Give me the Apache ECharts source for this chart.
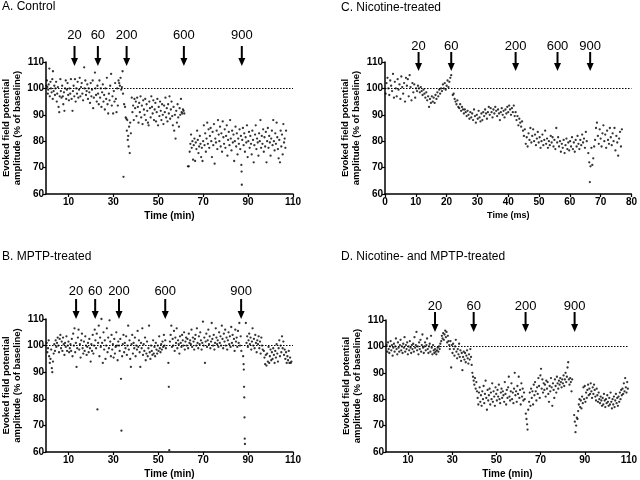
<!DOCTYPE html>
<html><head><meta charset="utf-8">
<script src="https://cdn.jsdelivr.net/npm/echarts@6/dist/echarts.min.js"></script>
<style>html,body{margin:0;padding:0;background:#fff}#c{width:640px;height:480px}</style>
</head><body><div id="c"></div>
<script>
// ---------- DATA ----------
const stimLabels = ['20','60','200','600','900'];
const stimLabelsD = ['20','60','200','900'];
const controlStimT = [12.7, 23.1, 35.9, 61.4, 87.2];
const nicotineStimT = [10.9, 21.5, 42.4, 56.0, 66.6];
const mptpStimT = [13.4, 21.9, 32.5, 53.1, 86.9];
const nicMptpStimT = [22.2, 39.7, 63.2, 85.4];
const xTicksMin = [10,30,50,70,90,110];
const xTicksC = [0,10,20,30,40,50,60,70,80];

const controlPts = [[0.2,101],[0.4,103],[0.6,100.5],[0.8,98],[1,99.5],[1.2,101.5],[1.5,107.5],[1.7,97],[2,102.5],[2.2,100],[2.5,98.5],[2.8,103.5],[3,96],[3.1,106.5],[3.4,99],[3.7,101],[4,97.5],[4.2,100],[4.5,102.5],[4.8,95],[5,98],[5.3,100.5],[5.6,93],[5.9,91],[6.1,97],[6.4,103.5],[6.6,99],[6.9,96.5],[7.2,101],[7.5,97],[7.7,94],[8,98.5],[8.2,91.5],[8.5,100],[8.8,103],[9,96],[9.3,99.5],[9.6,102],[9.9,97.5],[10.2,95.5],[10.5,100],[10.8,98],[11.1,103.5],[11.4,96],[11.8,91.5],[12,99],
[12.3,101],[12.6,97],[12.9,103.5],[13.2,95],[13.5,100],[13.8,98],[14.1,102.5],[14.4,96.5],[14.7,99.5],[15,104],[15.3,97],[15.6,100.5],[15.9,102],[16.2,98],[16.5,95.5],[17,108],[17.2,100],[17.5,103],[17.8,97.5],[18.1,99],[18.4,101.5],[18.7,96],[19,100],[19.3,98.5],[19.6,94.5],[19.9,102],[20.2,97],[20.5,99.5],[20.8,103],[21,92.5],[21.3,96.5],[21.8,106],[22,100],[22.3,97.5],[22.6,95],[22.9,101],
[23.2,98],[23.5,94],[23.8,103],[24.1,96.5],[24.4,100],[24.7,93],[25,98.5],[25.3,101.5],[25.6,95],[25.9,97.5],[26.2,92],[26.5,100],[26.8,96],[27.1,104],[27.4,94],[27.7,90.5],[28,98],[28.3,95.5],[28.6,101],[29,105.5],[29.3,93.5],[29.6,97],[29.9,90.5],[30.2,99],[30.5,95],[30.8,102],[31.1,96],[31.4,91],[31.7,100],[32,93.5],[32.3,103],[32.6,102],[32.9,101],[33.2,104],[33.5,99.5],[33.8,100.5],[34.1,106.5],[34.3,98],[34.5,66.5],[34.8,94],
[35.2,93],[35.5,89],[35.8,88.5],[36,84],[36.2,88],[36.4,80.5],[36.6,82],[36.8,78],[37,85.5],[37.3,75.5],[37.5,87],[37.8,83],
[38.2,96.5],[38.5,91],[38.8,93.5],[39.1,88],[39.4,96],[39.7,92.5],[40,95],[40.3,89.5],[40.6,96.5],[40.9,93],[41.2,87],[41.5,94.5],[41.8,91],[42.1,97],[42.4,89],[42.7,93.5],[43,86.5],[43.3,95.5],[43.6,92],[43.9,90],[44.2,96],[44.5,88],[44.8,94],[45.1,91.5],[45.4,87],[45.7,86],[46,95],[46.3,92.5],[46.6,89],[46.9,97],[47.2,93],[47.5,90.5],[47.8,95.5],[48.1,88],[48.4,92],[48.7,94.5],[49,87.5],[49.3,91],[49.6,96],[49.9,86],[50.2,93],[50.5,89.5],[50.8,95],[51.1,91.5],[51.4,88],[51.7,94],[52,90],[52.3,86.5],[52.6,93.5],[52.9,91],[53.2,96.5],[53.5,89],[53.8,92.5],[54.1,87.5],[54.4,94],[54.7,90.5],[55,97],[55.3,88.5],[55.6,92],[55.9,95],[56.2,89.5],[56.5,86],[56.8,93],[57.1,84],[57.4,90],[57.7,81],[58,91.5],[58.3,87],[58.6,94],[58.9,89],[59.2,85.5],[59.5,92.5],[59.8,90],[60.1,96],[60.4,91],[60.7,90.5],[61,92],[61.3,91.5],[61.6,90.5],
[63.2,70.5],[63.6,70.5],[64,76],[64.3,79],[64.6,82.5],[64.9,77.5],[65.2,80],[65.5,73],[65.8,78.5],[66.1,81],[66.4,72.5],[66.7,79.5],[67,77],[67.3,84],[67.6,80.5],[67.9,75.5],[68.2,78],[68.5,82],[68.8,79],[69.1,74],[69.4,77.5],[69.7,72.5],[70,80],[70.3,86],[70.6,78.5],[70.9,83],[71.2,76],[71.5,81],[71.8,87],[72.1,79],[72.4,84.5],[72.7,77.5],[73,82],[73.3,85],[73.6,80],[73.9,74],[74.2,83.5],[74.5,78.5],[74.8,86.5],[75.1,71.5],[75.4,81],[75.7,79.5],[76,84],[76.3,77],[76.6,88],[76.9,82.5],[77.2,80],[77.5,85.5],[77.8,78],[78.1,83],[78.4,76],[78.7,87.5],[79,81.5],[79.3,79],[79.6,84.5],[79.9,77.5],[80.2,82],[80.5,86],[80.8,74.5],[81.1,80.5],[81.4,83.5],[81.7,78.5],[82,88],[82.3,81],[82.6,76.5],[82.9,84],[83.2,79.5],[83.5,82.5],[83.8,72.5],[84.1,80],[84.4,85.5],[84.7,78],[85,83],[85.3,75],[85.6,81],[85.9,79],[86.2,84.5],[86.5,77],[86.8,82],[87,71],[87.1,68.5],[87.2,63.5],[87.4,80.5],[87.7,85],[88,78.5],[88.3,83],[88.6,76],[88.9,81.5],[89.2,79.5],[89.5,86],[89.8,74],[90.1,80],[90.4,83.5],[90.7,77.5],[91,82],[91.3,79],[91.6,75],[91.9,84],[92.2,80.5],[92.5,72],[92.8,78.5],[93.1,82.5],[93.4,86],[93.7,77],[94,81],[94.3,79.5],[94.6,74.5],[94.9,83],[95.2,80],[95.5,88],[95.8,77.5],[96.1,82],[96.4,79],[96.7,84.5],[97,76],[97.3,81.5],[97.6,78],[97.9,83.5],[98.2,72],[98.5,80],[98.8,85],[99.1,77.5],[99.4,82],[99.7,79.5],[100,74.5],[100.3,81],[100.6,84],[100.9,78.5],[101.2,88],[101.5,80],[101.8,76.5],[102.1,83],[102.4,79],[102.7,87],[103,81.5],[103.3,77],[103.6,73.5],[103.9,80.5],[104.2,72],[104.5,84],[104.8,78],[105.1,82.5],[105.4,75],[105.7,86.5],[106,79.5],[106.3,81],[106.6,77.5],[106.9,84]];

const nicotinePts = [[0.2,98],[0.5,102],[0.8,104],[1.1,100],[1.4,97.5],[1.7,103],[2,101],[2.3,99],[2.6,105.5],[2.9,96.5],[3.2,102.5],[3.5,100],[3.8,97],[4.1,103.5],[4.4,99.5],[4.7,101.5],[5,96],[5.3,104.5],[5.6,100.5],[5.9,98],[6.2,102],[6.5,95],[6.8,104],[7.1,101],[7.4,103.5],[7.7,97],[8,105],[8.3,100.5],[8.6,95.5],[8.9,102],[9.2,98.5],[9.5,101.5],[9.8,96.5],
[10.1,100],[10.4,99],[10.7,101],[11,100],[11.3,98.5],[11.6,100.5],[11.9,99],[12.2,97.5],[12.5,99.5],[12.8,98],[13.1,96.5],[13.4,98.5],[13.7,95.5],[14,97],[14.3,93],[14.6,96],[14.9,94.5],[15.2,97],
[15.5,95],[15.8,96.5],[16.1,94.5],[16.4,97.5],[16.7,96],[17,98.5],[17.3,97],[17.6,99.5],[17.9,98],[18.2,100],[18.5,99],[18.8,101.5],[19.1,100],[19.4,102],[19.7,99.5],[20,101],[20.3,103],[20.6,100.5],[20.9,102.5],[21.2,104],[21.5,105],
[22,97.5],[22.3,98],[22.6,96],[22.9,95],[23.2,94],[23.5,95.5],[23.8,93],[24.1,92.5],[24.4,94],[24.7,91.5],[25,93],[25.3,92],[25.6,90.5],[25.9,92],[26.2,91],[26.5,89.5],[26.8,91.5],[27.1,90],
[27.4,88.5],[27.7,91],[28,89],[28.3,90.5],[28.6,88],[28.9,92],[29.2,89.5],[29.5,87],[29.8,90],[30.1,88.5],[30.4,91.5],[30.7,89],[31,87.5],[31.3,90.5],[31.6,88],[31.9,91],
[32.2,89.5],[32.5,92],[32.8,90.5],[33.1,88.5],[33.4,91],[33.7,93],[34,90],[34.3,92.5],[34.6,91],[34.9,89],[35.2,92],[35.5,90.5],[35.8,93],[36.1,91.5],[36.4,89.5],[36.7,92],[37,90.5],[37.3,88],[37.6,91],[37.9,92.5],[38.2,90],[38.5,91.5],[38.8,89],[39.1,92],[39.4,90.5],[39.7,93],[40,91],[40.3,93.5],[40.6,92],[40.9,90],[41.2,92.5],[41.5,91],[41.8,93.5],
[42.1,89.5],[42.4,91],[42.7,88],[43,89.5],[43.3,86],[43.6,88.5],[43.9,87],[44.2,85.5],[44.5,87.5],[44.8,84],
[45.1,82],[45.4,84.5],[45.7,79],[46,81.5],[46.3,78],[46.6,83],[46.9,80.5],[47.2,85],[47.5,79.5],[47.8,82],[48.1,84.5],[48.4,80],[48.7,82.5],[49,78.5],[49.3,81],[49.6,83.5],[49.9,79.5],[50.2,81.5],[50.5,77.5],[50.8,80],[51.1,82.5],[51.4,78.5],[51.7,80.5],[52,84],[52.3,79],[52.6,81],[52.9,77.5],[53.2,80],[53.5,78.5],[53.8,82],[54.1,79.5],[54.4,81.5],[54.7,78],[55,80.5],
[55.3,77],[55.6,85],[55.9,79.5],[56.2,81.5],[56.5,78],[56.8,80],[57.1,76],[57.4,79],[57.7,77.5],[58,80.5],[58.3,75.5],[58.6,78.5],[58.9,81],[59.2,77],[59.5,79.5],[59.8,76.5],[60.1,80],[60.4,78],[60.7,81.5],[61,77],[61.3,79.5],[61.6,76],[61.9,80.5],[62.2,78],[62.5,82],[62.8,79],[63.1,77],[63.4,80.5],[63.7,78.5],[64,82.5],[64.3,79.5],[64.6,81],[64.9,77.5],[65.2,83.5],[65.5,80],
[66,75.5],[66.3,72],[66.5,64.5],[66.7,70.5],[67,77.5],[67.3,71],[67.6,73.5],[67.9,78],
[68.2,80.5],[68.5,85],[68.8,87],[69.1,82],[69.4,79],[69.7,84.5],[70,81],[70.3,78],[70.6,83],[70.9,86],[71.2,80],[71.5,82.5],[71.8,77.5],[72.1,84],[72.4,80.5],[72.7,79],[73,85],[73.3,81.5],[73.6,78.5],[73.9,83],[74.2,80],[74.5,85],[74.8,76.5],[75.1,82],[75.4,79.5],[75.7,74.5],[76,81],[76.3,83.5],[76.6,78],[76.9,84.5]];

const mptpPts = [[0.3,101],[0.6,97.5],[0.9,99],[1.2,102],[1.4,96],[1.7,93.5],[2,95],[2.3,98.5],[2.6,91.5],[2.8,90],[3.1,94],[3.4,97],[3.7,100.5],[4,98],[4.3,102],[4.6,99.5],[4.9,101],[5.2,103],[5.5,100],[5.8,97.5],[6.1,102.5],[6.4,104],[6.7,99],[7,101.5],[7.3,98],[7.6,103],[7.9,100.5],[8.2,96.5],[8.5,101],[8.8,99.5],[9.1,103.5],[9.4,98],[9.7,100],[10,101.5],[10.3,97.5],[10.6,99],[10.9,100.5],[11.2,98],[11.5,102.5],
[11.8,96],[12.1,104.5],[12.4,100],[12.7,106.5],[13,97.5],[13.3,101],[13.6,92],[13.9,99],[14.2,103],[14.5,106],[14.8,98.5],[15.1,100.5],[15.4,95.5],[15.7,102],[16,104.5],[16.3,99],[16.6,97],[16.9,101.5],[17.2,98],[17.5,103.5],[17.8,100],[18.1,96.5],[18.4,99.5],[18.7,101],[19,97.5],[19.3,102.5],[19.6,99],[19.9,94],[20.2,100.5],[20.5,98],[20.8,104],[21.1,97],[21.4,100],[21.7,106],[22,102],[22.3,99],[22.6,104.5],[22.9,76],[23.2,101],[23.5,107.5],[23.8,96],[24.1,103],[24.4,99.5],[24.7,110],[25,101],[25.3,93.5],[25.6,105],[25.9,98.5],[26.2,102],[26.5,95],[26.8,100],[27.1,106.5],[27.4,97.5],[27.7,103],[28,99],[28.3,109.5],[28.6,101.5],[28.9,96],[29.2,104],[29.5,98.5],[29.8,100.5],[30.1,95.5],[30.4,102.5],[30.7,97],[31,99.5],[31.3,105],[31.6,100],[31.9,94.5],[32.2,101.5],[32.5,100],[32.8,98],[33.1,102.5],[33.4,87.5],[33.6,68],[33.9,96],[34.2,100.5],[34.5,104],[34.8,97.5],[35.1,101],[35.4,99],[35.7,103.5],[36,96.5],[36.3,100],[36.6,107.5],[36.9,98.5],[37.2,102],[37.5,95],[37.8,92],[38.1,100.5],[38.4,104],[38.7,97],[39,101],[39.3,99],[39.6,103],[39.9,96],[40.2,100],[40.5,98.5],[40.8,105.5],[41.1,99.5],[41.4,102],[41.7,97.5],[42,92],[42.3,101],[42.6,99],[42.9,106.5],[43.2,96.5],[43.5,100.5],[43.8,98],[44.1,103],[44.4,94.5],[44.7,97],[45,101.5],[45.3,96],[45.6,99],[45.9,107.5],[46.2,97.5],[46.5,95],[46.8,100],[47.1,98],[47.4,96.5],[47.7,102],[48,97],[48.3,99.5],[48.6,96],[48.9,101],[49.2,98.5],[49.5,97],[49.8,100],[50.1,98],[50.4,103.5],[50.7,99],[51,97.5],[51.3,100.5],[51.6,98.5],[51.9,101.5],[52.2,99.5],[52.5,104],[52.8,100],[53.1,102],[53.4,99],
[54.5,93.5],[54.7,84.5],[54.9,60.7],
[55.2,101.5],[55.5,104],[55.8,107.5],[56.1,99.5],[56.4,102.5],[56.7,100],[57,105.5],[57.3,98],[57.6,103],[57.9,101],[58.2,106.5],[58.5,99],[58.8,102],[59.1,100.5],[59.4,97],[59.7,103.5],[60,101],[60.3,99.5],[60.6,104],[60.9,102],[61.2,100],[61.5,105],[61.8,98.5],[62.1,101.5],[62.4,103],[62.7,100],[63,102.5],[63.3,99],[63.6,104.5],[63.9,101],[64.2,102],[64.5,100.5],[64.8,106],[65.1,99.5],[65.4,103],[65.7,101.5],[66,98.5],[66.3,102.5],[66.6,104],[66.9,100],[67.2,106.5],[67.5,101],[67.8,99],[68.1,103.5],[68.4,100.5],[68.7,105],[69,102],[69.3,98.5],[69.6,101],[69.9,109],[70.2,100],[70.5,103],[70.8,93.5],[71.1,101.5],[71.4,104.5],[71.7,99.5],[72,102],[72.3,106],[72.6,100.5],[72.9,103.5],[73.2,99],[73.5,101.5],[73.8,108.5],[74.1,102.5],[74.4,100],[74.7,104],[75,98.5],[75.3,101],[75.6,106.5],[75.9,103],[76.2,100.5],[76.5,102],[76.8,99.5],[77.1,105],[77.4,101],[77.7,103.5],[78,100],[78.3,107.5],[78.6,102.5],[78.9,99],[79.2,104.5],[79.5,101.5],[79.8,106],[80.1,100],[80.4,103],[80.7,98.5],[81,102],[81.3,105],[81.6,100.5],[81.9,103.5],[82.2,99.5],[82.5,107],[82.8,101],[83.1,104],[83.4,100],[83.7,102.5],[84,98],[84.3,106],[84.6,101.5],[84.9,103],[85.2,99.5],[85.5,105.5],[85.8,101],[86.1,108.5],[86.4,100],[86.7,103.5],[87,98],
[87.8,96],[88,93],[88.1,91],[88.2,84.5],[88.3,80.5],[88.4,73],[88.5,65],[88.6,63],
[89,108.5],[89.3,101],[89.6,103.5],[89.9,99.5],[90.2,102],[90.5,104.5],[90.8,100.5],[91.1,103],[91.4,98.5],[91.7,101.5],[92,106.5],[92.3,100],[92.6,102.5],[92.9,99],[93.2,104],[93.5,101],[93.8,97.5],[94.1,102],[94.4,100.5],[94.7,103.5],[95,99],[95.3,101.5],[95.6,97],[95.9,103],[96.2,100],[96.5,98.5],
[97,98],[97.3,95.5],[97.6,93],[97.9,96.5],[98.2,92.5],[98.5,97],[98.8,94],[99.1,99.5],[99.4,93.5],[99.7,96],[100,98.5],[100.3,94.5],[100.6,97.5],[100.9,95],[101.2,99],[101.5,96.5],[101.8,93.5],[102.1,98],[102.4,95.5],[102.7,100.5],[103,97],[103.3,94],[103.6,99],[103.9,102],[104.2,96],[104.5,100],[104.8,97.5],[105.1,103.5],[105.4,99],[105.7,101.5],[106,96.5],[106.3,98.5],[106.6,95],[106.9,97.5],[107.2,93.5],[107.5,96],[107.8,94.5],[108.1,98],[108.4,93.5],[108.7,95.5],[109,93.5],[109.3,94]];

const nicMptpPts = [[0.3,100.5],[0.6,98],[0.9,101.5],[1.2,99],[1.5,97.5],[1.8,100],[2.1,102],[2.4,98.5],[2.7,100.5],[3,96.5],[3.3,99.5],[3.6,101],[3.9,98],[4.2,100],[4.5,103],[4.8,99],[5.1,97],[5.4,101.5],[5.7,99.5],[6,98],[6.3,100.5],[6.6,102.5],[6.9,98.5],[7.2,100],[7.5,97.5],[7.8,101],[8.1,99.5],[8.4,103.5],[8.7,98],[9,100.5],[9.3,99],[9.6,101.5],[9.9,97],[10.2,100],[10.5,98.5],[10.8,102],[11.1,99.5],[11.4,97.5],[11.7,100.5],[12,99],[12.3,101],[12.6,98],[12.9,103.5],[13.2,99.5],[13.5,100.5],[13.8,105.5],[14.1,98.5],[14.4,100],[14.7,97],[15,101.5],[15.3,99],[15.6,102.5],[15.9,98],[16.2,100.5],[16.5,104.5],[16.8,99.5],[17.1,97.5],[17.4,100],[17.7,101.5],[18,98.5],[18.3,100.5],[18.6,103],[18.9,99],[19.2,97.5],[19.5,100],[19.8,101],[20.1,98],[20.4,104],[20.7,99.5],[21,97],[21.3,100.5],
[21.6,98.5],[21.9,97.5],[22.2,99],[22.5,98],[22.8,97],[23.1,98.5],[23.4,99.5],[23.7,98],[24,100],[24.3,99],[24.6,101],
[25,102],[25.3,104],[25.6,103],[25.9,105],[26.2,102.5],[26.5,104.5],[26.8,106],[27.1,103.5],[27.4,105.5],[27.7,101.5],[28,104],[28.3,102],[28.6,100.5],
[28.9,99],[29.2,102],[29.5,92],[29.8,100.5],[30.1,97.5],[30.4,101],[30.7,99],[31,96.5],[31.3,100],[31.6,102.5],[31.9,98],[32.2,95.5],[32.5,99],[32.8,97],[33.1,101],[33.4,96],[33.7,98.5],[34,94.5],[34.3,97.5],[34.6,91],[34.9,96],[35.2,98],[35.5,95],[35.8,97.5],[36.1,94],[36.4,96.5],[36.7,98.5],[37,95.5],[37.3,93.5],[37.6,97],[37.9,95],[38.2,99],[38.5,96],
[38.8,93],[39.1,90],[39.4,88.5],[39.7,87],[40,85.5],[40.3,88],[40.6,84],[40.9,86.5],[41.2,83],
[41.5,80.5],[41.8,78],[42.1,82.5],[42.4,84.5],[42.7,79],[43,81.5],[43.3,77.5],[43.6,83],[43.9,80],[44.2,85],[44.5,78.5],[44.8,82],[45.1,87],[45.4,80.5],[45.7,76],[46,83.5],[46.3,79.5],[46.6,81.5],[46.9,84],[47.2,78],[47.5,82.5],[47.8,80],[48.1,86],[48.4,79],[48.7,83],[49,81],[49.3,77.5],[49.6,84.5],[49.9,82],[50.2,79.5],[50.5,83.5],[50.8,81],[51.1,85.5],[51.4,80],[51.7,78.5],[52,82.5],[52.3,84],[52.6,80.5],[52.9,83],[53.2,81.5],[53.5,79],[53.8,86.5],[54.1,82],[54.4,78],[54.7,83.5],[55,80.5],[55.3,84.5],[55.6,88.5],[55.9,81],[56.2,79.5],[56.5,83],[56.8,86],[57.1,80],[57.4,82.5],[57.7,78.5],[58,84],[58.3,90],[58.6,81.5],[58.9,83],[59.2,79],[59.5,85],[59.8,82],[60.1,88.5],[60.4,80.5],[60.7,83.5],[61,78],[61.3,86],[61.6,81],[61.9,84],[62.2,79.5],[62.5,82.5],[62.8,80],
[63.3,74.5],[63.6,72.5],[63.9,70.5],[64.1,68.5],[64.4,76],
[64.8,79],[65.1,82.5],[65.4,77.5],[65.7,84],[66,80.5],[66.3,83],[66.6,78],[66.9,85.5],[67.2,81.5],[67.5,86.5],[67.8,83],[68.1,79.5],[68.4,84.5],[68.7,82],[69,88],[69.3,85],[69.6,80.5],[69.9,89],[70.2,91.5],[70.5,84],[70.8,87.5],[71.1,82.5],[71.4,86],[71.7,83.5],[72,85.5],[72.3,81],[72.6,87],[72.9,84],[73.2,86.5],[73.5,82],[73.8,79],[74.1,85],[74.4,83],[74.7,88],[75,84.5],[75.3,77.5],[75.6,86],[75.9,83.5],[76.2,80.5],[76.5,87.5],[76.8,85],[77.1,82.5],[77.4,88.5],[77.7,86],[78,84],[78.3,87],[78.6,85.5],[78.9,88],[79.2,86.5],[79.5,84.5],[79.8,87.5],[80.1,86],[80.4,89],[80.7,85],[81,87.5],[81.3,90],[81.6,86.5],[81.9,88.5],[82.2,92],[82.5,94],[82.8,87.5],[83.1,85.5],[83.4,88],[83.7,86.5],[84,83],[84.3,87.5],
[85.2,74],[85.5,71.5],[85.8,67.5],[86.1,70],[86.4,73],[86.7,72.5],[87,75.5],[87.3,78],
[87.6,80],[87.9,77],[88.2,79.5],[88.5,76.5],[88.8,81],[89.1,78.5],[89.4,84.5],[89.7,80],[90,85],[90.3,79],[90.6,82.5],[90.9,80.5],[91.2,83.5],[91.5,85.5],[91.8,81.5],[92.1,84],[92.4,82],[92.7,86],[93,83],[93.3,80.5],[93.6,84.5],[93.9,82],[94.2,85.5],[94.5,83.5],[94.8,81],[95.1,79.5],[95.4,84],[95.7,81.5],[96,79],[96.3,82.5],[96.6,80],[96.9,78.5],[97.2,81],[97.5,79.5],[97.8,77.5],[98.1,80.5],[98.4,78],[98.7,82],[99,79.5],[99.3,77],[99.6,80],[99.9,78.5],[100.2,81.5],[100.5,79],[100.8,77.5],[101.1,80.5],[101.4,78],[101.7,82.5],[102,79],[102.3,76.5],[102.6,80],[102.9,78],[103.2,81],[103.5,77],[103.8,79.5],[104.1,82],[104.4,78.5],[104.7,80.5],[105,77.5],[105.3,81],[105.6,79],[105.9,82.5],[106.2,80],[106.5,83.5],[106.8,81.5],[107.1,84],[107.4,82],[107.7,86],[108,83],[108.3,88],[108.6,84.5],[108.9,82.5],[109.2,86.5],[109.5,84]];

// ---------- LAYOUT ----------
const FONT = '"Liberation Sans", Arial, sans-serif';
const panels = [
  {title:'A. Control', tx:2, ty:1, pts:controlPts, grid:{left:44,top:62,width:249,height:132}, xMax:110, ticks:xTicksMin, xName:'Time (min)', xNameSize:10,
   stim:controlStimT, labels:stimLabels, tip:4, top:-16, lab:-33},
  {title:'C. Nicotine-treated', tx:341, ty:2, pts:nicotinePts, grid:{left:385,top:62,width:247,height:132}, xMax:80, ticks:xTicksC, xName:'Time (ms)', xNameSize:9,
   stim:nicotineStimT, labels:stimLabels, tip:9, top:-10, lab:-22},
  {title:'B. MPTP-treated', tx:2, ty:251, pts:mptpPts, grid:{left:44,top:319,width:249,height:133}, xMax:110, ticks:xTicksMin, xName:'Time (min)', xNameSize:10,
   stim:mptpStimT, labels:stimLabels, tip:0, top:-20, lab:-34},
  {title:'D. Nicotine- and MPTP-treated', tx:341, ty:251, pts:nicMptpPts, grid:{left:386,top:320,width:246,height:132}, xMax:110, ticks:xTicksMin, xName:'Time (min)', xNameSize:10,
   stim:nicMptpStimT, labels:stimLabelsD, tip:12, top:-8, lab:-20}
];

const chart = echarts.init(document.getElementById('c'));
const option = {
  animation:false,
  backgroundColor:'#fff',
  title: panels.map(p=>({text:p.title, left:p.tx, top:p.ty, padding:0,
    textStyle:{fontFamily:FONT, fontSize:12, fontWeight:'normal', color:'#000'}})),
  grid: panels.map(p=>p.grid),
  xAxis: panels.map((p,i)=>({type:'value', gridIndex:i, min:0, max:p.xMax,
    name:p.xName, nameLocation:'middle', nameGap:17,
    nameTextStyle:{fontFamily:FONT, fontSize:p.xNameSize, fontWeight:'bold', color:'#000'},
    splitLine:{show:false},
    axisLine:{lineStyle:{color:'#000', width:1.5}},
    axisTick:{show:true, length:3, lineStyle:{color:'#000', width:1.2}, customValues:p.ticks},
    axisLabel:{customValues:p.ticks, margin:3, fontFamily:FONT, fontSize:10, fontWeight:'bold', color:'#000'}
  })),
  yAxis: panels.map((p,i)=>({type:'value', gridIndex:i, min:60, max:110, interval:10,
    name:'Evoked field potential\namplitude (% of baseline)', nameLocation:'middle', nameGap:23, nameRotate:90,
    nameTextStyle:{fontFamily:FONT, fontSize:9.5, fontWeight:'bold', color:'#000', lineHeight:11},
    splitLine:{show:false},
    axisLine:{show:true, lineStyle:{color:'#000', width:1.5}},
    axisTick:{show:true, length:3, lineStyle:{color:'#000', width:1.2}},
    axisLabel:{margin:2, fontFamily:FONT, fontSize:10, fontWeight:'bold', color:'#000'}
  })),
  series: panels.map((p,i)=>({type:'scatter', xAxisIndex:i, yAxisIndex:i, data:p.pts,
    symbol:'circle', symbolSize:2.3, itemStyle:{color:'#000'}, silent:true,
    markLine:{silent:true, symbol:'none', label:{show:false},
      lineStyle:{type:[1.5,1.5], color:'#000', width:1.2}, data:[{yAxis:100}]}
  }))
};
chart.setOption(option);

// stimulus arrows, positioned through the axes
const g = [];
panels.forEach((p,i)=>{
  p.stim.forEach((t,k)=>{
    const pt = chart.convertToPixel({xAxisIndex:i, yAxisIndex:i}, [t, 110]);
    const x = pt[0], y0 = pt[1];
    const tipY = y0 + p.tip, topY = y0 + p.top;
    g.push({type:'line', shape:{x1:x, y1:topY, x2:x, y2:tipY-6}, style:{stroke:'#000', lineWidth:2}, silent:true});
    g.push({type:'polygon', shape:{points:[[x-3.5,tipY-8],[x+3.5,tipY-8],[x,tipY]]}, style:{fill:'#000'}, silent:true});
    g.push({type:'text', x:x, y:y0 + p.lab, style:{text:p.labels[k], fontFamily:FONT, fontSize:13, fill:'#000', textAlign:'center', textVerticalAlign:'top'}, silent:true});
  });
});
chart.setOption({graphic:g});
</script></body></html>
